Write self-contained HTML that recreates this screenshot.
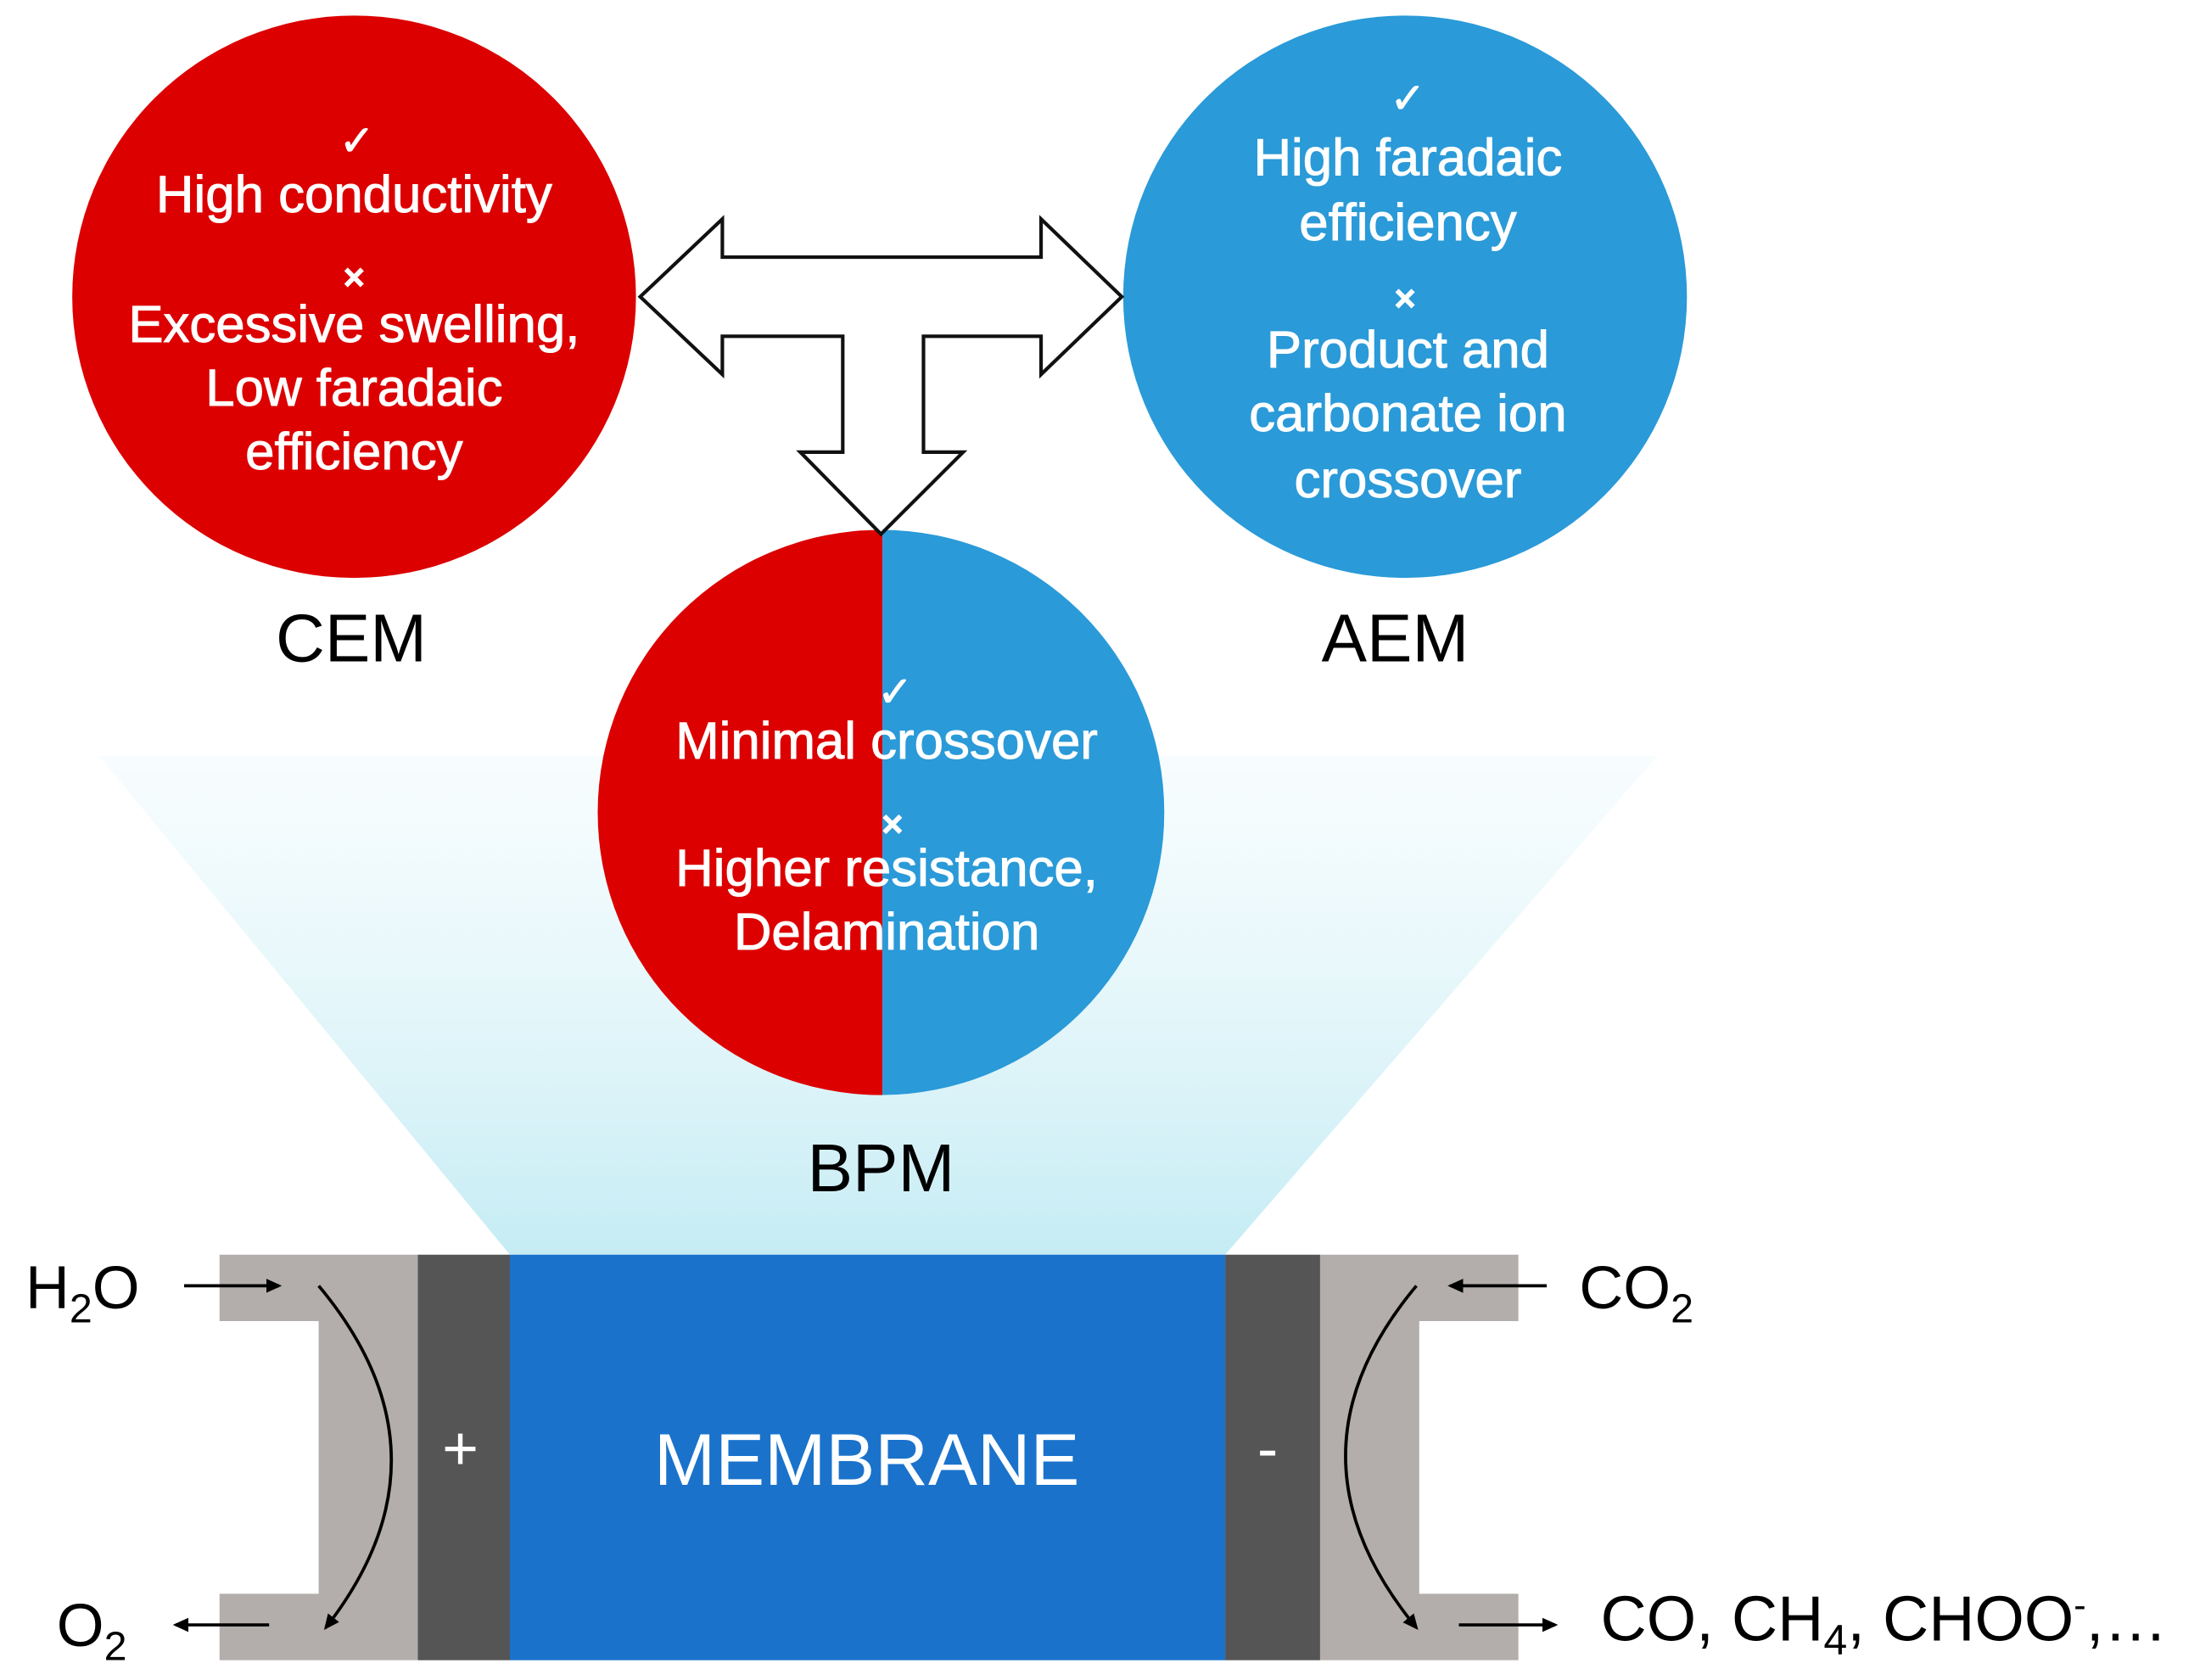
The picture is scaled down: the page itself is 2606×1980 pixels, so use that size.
<!DOCTYPE html>
<html><head><meta charset="utf-8"><style>html,body{margin:0;padding:0;background:#fff}svg{display:block}</style></head>
<body>
<svg width="2606" height="1980" viewBox="0 0 1561 1189" preserveAspectRatio="none" xmlns="http://www.w3.org/2000/svg" font-family="Liberation Sans, sans-serif">
<defs>
<linearGradient id="g" x1="0" y1="0" x2="0" y2="1">
<stop offset="0" stop-color="#e6f7fb" stop-opacity="0.3"/>
<stop offset="1" stop-color="#c5ecf4"/>
</linearGradient>
<clipPath id="bc"><circle cx="622" cy="575" r="200"/></clipPath>
<marker id="ah" markerWidth="12" markerHeight="12" refX="9" refY="6" orient="auto" markerUnits="userSpaceOnUse"><path d="M0,1 L11,6 L0,11 z" fill="#000"/></marker>
</defs>
<rect width="1561" height="1189" fill="#fff"/>
<polygon points="70,535 1170,535 865,888 360,888" fill="url(#g)"/>
<circle cx="250" cy="210" r="199" fill="#dc0000"/>
<circle cx="992" cy="210" r="199" fill="#2a9ad8"/>
<g clip-path="url(#bc)">
<rect x="420" y="370" width="203" height="410" fill="#dc0000"/>
<rect x="623" y="370" width="205" height="410" fill="#2a9ad8"/>
</g>
<polygon points="452,210 510,155 510,182 735,182 735,155 792,210 735,265 735,238 652,238 652,320 680,320 622,378 565,320 595,320 595,238 510,238 510,265" fill="#fff" stroke="#111" stroke-width="2.5" stroke-linejoin="miter"/>
<g fill="#fff" font-size="37" text-anchor="middle" stroke="#fff" stroke-width="0.6">
<text x="252" y="110" font-size="30">✓</text>
<text x="250" y="150">High conductivity</text>
<text x="250" y="205" font-size="26" font-weight="bold">×</text>
<text x="250" y="242">Excessive swelling,</text>
<text x="250" y="287">Low faradaic</text>
<text x="250" y="332">efficiency</text>
<text x="994" y="80" font-size="30">✓</text>
<text x="994" y="124">High faradaic</text>
<text x="994" y="170">efficiency</text>
<text x="992" y="220" font-size="26" font-weight="bold">×</text>
<text x="994" y="260">Product and</text>
<text x="994" y="305">carbonate ion</text>
<text x="994" y="352">crossover</text>
<text x="632" y="500" font-size="30">✓</text>
<text x="626" y="537">Minimal crossover</text>
<text x="630" y="592" font-size="26" font-weight="bold">×</text>
<text x="626" y="627">Higher resistance,</text>
<text x="626" y="672">Delamination</text>
</g>
<g font-size="48" text-anchor="middle" fill="#000">
<text x="248" y="468">CEM</text>
<text x="985" y="468">AEM</text>
<text x="622" y="843">BPM</text>
</g>
<path d="M155,888 H295 V1175 H155 V1128 H225 V935 H155 Z" fill="#b3aeab"/>
<path d="M1072,888 H932 V1175 H1072 V1128 H1002 V935 H1072 Z" fill="#b3aeab"/>
<rect x="295" y="888" width="65" height="287" fill="#555555"/>
<rect x="865" y="888" width="67" height="287" fill="#555555"/>
<rect x="360" y="888" width="505" height="287" fill="#1a72cb"/>
<text x="612" y="1051" font-size="52" fill="#fff" text-anchor="middle">MEMBRANE</text>
<text x="325" y="1040" font-size="44" fill="#fff" text-anchor="middle">+</text>
<text x="895" y="1040" font-size="44" fill="#fff" text-anchor="middle">-</text>
<path d="M225,910 Q325,1030 230,1152" fill="none" stroke="#000" stroke-width="2.2" marker-end="url(#ah)"/>
<path d="M1000,910 Q900,1030 1000,1152" fill="none" stroke="#000" stroke-width="2.2" marker-end="url(#ah)"/>
<g stroke="#000" stroke-width="2.2" marker-end="url(#ah)">
<line x1="130" y1="910" x2="197" y2="910"/>
<line x1="190" y1="1150" x2="124" y2="1150"/>
<line x1="1092" y1="910" x2="1024" y2="910"/>
<line x1="1030" y1="1150" x2="1098" y2="1150"/>
</g>
<g font-size="43" fill="#000">
<text x="18" y="926">H<tspan font-size="29" dy="10">2</tspan><tspan dy="-10">O</tspan></text>
<text x="40" y="1165">O<tspan font-size="29" dy="10">2</tspan></text>
<text x="1115" y="926">CO<tspan font-size="29" dy="10">2</tspan></text>
<text x="1130" y="1161" font-size="45">CO, CH<tspan font-size="30" dy="10">4</tspan><tspan dy="-10">, CHOO</tspan><tspan font-size="26" dy="-16">-</tspan><tspan dy="16">,…</tspan></text>
</g>
</svg>
</body></html>
